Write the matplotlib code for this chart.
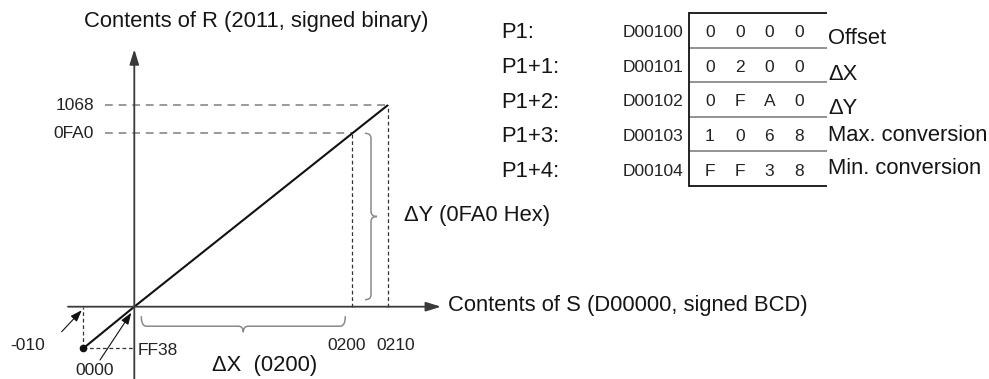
import numpy as np
import matplotlib
matplotlib.use('Agg')
import matplotlib.pyplot as plt
from matplotlib.path import Path
from matplotlib.patches import PathPatch

plt.rcParams['font.family'] = ['Liberation Sans', 'DejaVu Sans']

# ---------------- data ----------------
params = ['P1:', 'P1+1:', 'P1+2:', 'P1+3:', 'P1+4:']
addresses = ['D00100', 'D00101', 'D00102', 'D00103', 'D00104']
words = ['0000', '0200', '0FA0', '1068', 'FF38']
meanings = ['Offset', '\u0394X', '\u0394Y', 'Max. conversion', 'Min. conversion']

s_values = [-10, 0, 200, 210]          # contents of S (decimal)
r_values = [-200, 0, 4000, 4200]       # contents of R (decimal)
s_labels = ['-010', '0200', '0210']
s_label_vals = [-10, 200, 210]
r_labels = ['FF38', '0FA0', '1068']
r_label_vals = [-200, 4000, 4200]
origin_label = '0000'
title_r = 'Contents of R (2011, signed binary)'
title_s = 'Contents of S (D00000, signed BCD)'
dx_text = '\u0394X  (0200)'
dy_text = '\u0394Y (0FA0 Hex)'

# ---------------- layout ----------------
W, H = 989, 379
x_knot_px = [83.3, 134.3, 352.3, 388.0]     # schematic (non-linear) axis positions
y_knot_px = [348.3, 306.7, 133.3, 105.0]    # from top


def piecewise(xk, yk):
    xk = np.asarray(xk, float)
    yk = np.asarray(yk, float)
    s0 = (yk[1] - yk[0]) / (xk[1] - xk[0])
    s1 = (yk[-1] - yk[-2]) / (xk[-1] - xk[-2])

    def f(v):
        v = np.asarray(v, float)
        out = np.interp(v, xk, yk)
        out = np.where(v < xk[0], yk[0] + (v - xk[0]) * s0, out)
        out = np.where(v > xk[-1], yk[-1] + (v - xk[-1]) * s1, out)
        return out
    return f


hy = [H - v for v in y_knot_px]
fwdx, invx = piecewise(s_values, x_knot_px), piecewise(x_knot_px, s_values)
fwdy, invy = piecewise(r_values, hy), piecewise(hy, r_values)

fig = plt.figure(figsize=(W / 100, H / 100), dpi=100, facecolor='white')

gx = fig.add_axes([0, 0, 1, 1])
gx.set_xscale('function', functions=(fwdx, invx))
gx.set_yscale('function', functions=(fwdy, invy))
gx.set_xlim(float(invx(0.0)), float(invx(W)))
gx.set_ylim(float(invy(0.0)), float(invy(H)))
gx.axis('off')
gx.patch.set_alpha(0)

ov = fig.add_axes([0, 0, 1, 1])
ov.set_xlim(0, W)
ov.set_ylim(H, 0)
ov.axis('off')
ov.patch.set_alpha(0)


def P(s, r):
    return float(fwdx(s)), H - float(fwdy(r))


main_fs = 15.8
small_fs = 12.5
small_c = '#222222'
text_c = '#151515'

# ---- guide lines ----
gx.plot([float(invx(105)), s_values[3]], [r_values[3], r_values[3]],
        color='#9a9a9a', lw=1.4, ls=(0, (4, 3)))
gx.plot([float(invx(105)), s_values[2]], [r_values[2], r_values[2]],
        color='#9a9a9a', lw=1.4, ls=(0, (4, 3)))
gx.plot([s_values[2], s_values[2]], [0, r_values[2]], color='#333', lw=0.9, ls=(0, (3, 2.2)))
gx.plot([s_values[3], s_values[3]], [0, r_values[3]], color='#333', lw=0.9, ls=(0, (3, 2.2)))
gx.plot([s_values[0], s_values[0]], [r_values[0], 0], color='#333', lw=0.9, ls=(0, (3, 2.2)))
gx.plot([s_values[0], 0], [r_values[0], r_values[0]], color='#333', lw=0.9, ls=(0, (3, 2.2)))

# ---- axes ----
ax_kw = dict(arrowstyle='-|>,head_length=0.9,head_width=0.28', color='#3a3a3a', lw=1.3,
             shrinkA=0, shrinkB=0)
gx.annotate('', xy=(float(invx(441)), 0), xytext=(float(invx(68)), 0), arrowprops=ax_kw)
gx.annotate('', xy=(0, float(invy(H - 49.3))), xytext=(0, float(invy(0))), arrowprops=ax_kw)

# ---- conversion line ----
gx.plot(s_values, r_values, color='#111', lw=1.5, solid_capstyle='butt')
gx.plot([s_values[0]], [r_values[0]], 'o', ms=4.5, color='#111')


# ---- braces ----
def brace(p0, p1, depth, tip, r=5, color='#8a8a8a', lw=1.1):
    p0 = np.array(p0, float)
    p1 = np.array(p1, float)
    L = np.linalg.norm(p1 - p0)
    u = (p1 - p0) / L
    n = np.array([-u[1], u[0]])
    m = L / 2
    loc = [(0, 0), (0, depth), (r, depth), (m - r, depth), (m, depth), (m, depth + tip),
           (m, depth), (m + r, depth), (L - r, depth), (L, depth), (L, 0)]
    codes = [Path.MOVETO, Path.CURVE3, Path.CURVE3, Path.LINETO, Path.CURVE3, Path.CURVE3,
             Path.CURVE3, Path.CURVE3, Path.LINETO, Path.CURVE3, Path.CURVE3]
    pts = [p0 + t * u + d * n for t, d in loc]
    ov.add_patch(PathPatch(Path(pts, codes), fill=False, edgecolor=color, lw=lw))


ox, oy = P(0, 0)
x200, y4000 = P(s_values[2], r_values[2])
# horizontal brace under the x axis (opens upward, tip down)
brace((ox + 7, oy + 9.5), (x200 - 7, oy + 9.5), 10, 6)
# vertical brace right of the 0200 guide (opens left, tip right)
brace((x200 + 12.7, y4000), (x200 + 12.7, oy - 7), -6, -6)

# ---- small arrows ----
ar_kw = dict(arrowstyle='-|>,head_length=0.7,head_width=0.25', color='#111', lw=0.8,
             shrinkA=0, shrinkB=0)
tx, ty = P(s_values[0], 0)
ov.annotate('', xy=(tx - 1.5, ty + 3.5), xytext=(61.7, 331.7), arrowprops=ar_kw)
ov.annotate('', xy=(ox - 3, oy + 6), xytext=(100, 360), arrowprops=ar_kw)

# ---- tick labels ----
for lab, v in zip(r_labels[1:], r_label_vals[1:]):
    ov.text(94, P(0, v)[1], lab, ha='right', va='center', fontsize=small_fs, color=small_c)
fx, fy = P(0, r_label_vals[0])
ov.text(fx + 3, fy + 2, r_labels[0], ha='left', va='center', fontsize=small_fs, color=small_c)
mx, my = P(s_label_vals[0], r_label_vals[0])
ov.text(mx - 38, my - 3, s_labels[0], ha='right', va='center', fontsize=small_fs, color=small_c)
ov.text(ox - 40, H - 1, origin_label, ha='center', va='bottom', fontsize=small_fs, color=small_c)
for lab, v, dxo in zip(s_labels[1:], s_label_vals[1:], [-6, 8]):
    ov.text(P(v, 0)[0] + dxo, 345, lab, ha='center', va='center', fontsize=small_fs, color=small_c)

# ---- big texts ----
ov.text(256, 22, title_r, ha='center', va='center', fontsize=main_fs, color=text_c)
ov.text(448, 305, title_s, ha='left', va='center', fontsize=main_fs, color=text_c)
ov.text(211.7, 365, dx_text, ha='left', va='center', fontsize=main_fs, color=text_c)
ov.text(404, 216, dy_text, ha='left', va='center', fontsize=main_fs, color=text_c)

# ---- table ----
t_left, t_right, t_top, row_h = 689, 827, 13, 34.6
meaning_dy = [6, 7, 6, -1, -2.5]
for i in range(len(params) + 1):
    y = t_top + i * row_h
    c = '#111' if i in (0, len(params)) else '#8a8a8a'
    ov.plot([t_left, t_right], [y, y], color=c, lw=1.3, solid_capstyle='butt')
ov.plot([t_left, t_left], [t_top, t_top + len(params) * row_h], color='#111', lw=1.3)
for i, (p, a, w, m) in enumerate(zip(params, addresses, words, meanings)):
    yc = t_top + (i + 0.5) * row_h + 2.5
    ov.text(501.5, yc, p, ha='left', va='center', fontsize=main_fs, color=text_c)
    ov.text(683, yc, a, ha='right', va='center', fontsize=small_fs, color=small_c)
    for j, ch in enumerate(w):
        ov.text(710 + 29.7 * j, yc, ch, ha='center', va='center', fontsize=small_fs, color=small_c)
    ov.text(828, yc + meaning_dy[i], m, ha='left', va='center', fontsize=main_fs, color=text_c)

fig.savefig('out.png', dpi=100, facecolor='white')
